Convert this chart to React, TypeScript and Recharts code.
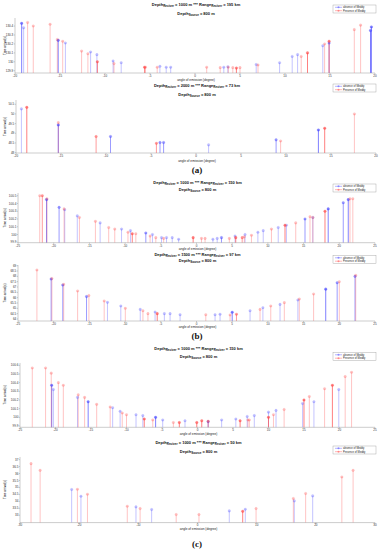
import React from 'react';
import { ScatterChart, Scatter, XAxis, YAxis, ReferenceLine } from 'recharts';

type Pt = { a: number; t: number; n: number };
const pt = (a: number, t: number, n = 1): Pt => ({ a, t, n });

// ---------- (a) top : receiver 1000 m, range 195 km ----------
const p1Absence: Pt[] = [
  pt(-19.26, 130.43, 3), pt(-19.04, 130.38), pt(-15.2, 130.24, 3), pt(-14.4, 130.21), pt(-11.6, 130.11),
  pt(-10.9, 130.08), pt(-9.1, 130.01), pt(-8.2, 129.99), pt(-3.9, 129.95), pt(-3.2, 129.94), pt(-2.7, 129.94),
  pt(3.2, 129.94), pt(3.65, 129.945), pt(6.8, 129.97), pt(9.4, 129.99), pt(10.8, 130.06), pt(11.4, 130.08),
  pt(14.2, 130.18), pt(14.9, 130.21, 2), pt(19.5, 130.35, 3), pt(19.6, 130.39, 3),
];
const p1Presence: Pt[] = [
  pt(-18.6, 130.44), pt(-17.97, 130.4), pt(-16.1, 130.42), pt(-15.3, 130.25), pt(-14.7, 130.23), pt(-12.6, 130.12),
  pt(-11.9, 130.09), pt(-10.85, 130.0, 3), pt(-9.0, 129.98), pt(-5.6, 129.94, 3), pt(-5.5, 129.94), pt(-4.2, 129.94),
  pt(1.3, 129.94), pt(2.8, 129.935), pt(3.7, 129.94), pt(4.2, 129.935), pt(4.6, 129.93, 3), pt(5.0, 129.935),
  pt(7.0, 129.965), pt(11.8, 130.06), pt(12.5, 130.1, 3), pt(14.4, 130.2), pt(14.9, 130.23, 3), pt(17.7, 130.36),
  pt(18.4, 130.41),
];
const p1XTicks = [-20, -15, -10, -5, 0, 5, 10, 15, 20];
const p1YTicks = [129.9, 130, 130.1, 130.2, 130.3, 130.4];

// ---------- (a) bottom : receiver 2000 m, range 73 km ----------
const p2Absence: Pt[] = [
  pt(-19.4, 50.26), pt(-15.3, 49.43, 3), pt(-9.5, 48.83, 2), pt(-4.0, 48.52, 2), pt(-3.6, 48.52, 2),
  pt(1.4, 48.4), pt(8.9, 48.66, 2), pt(13.6, 49.17, 3),
];
const p2Presence: Pt[] = [
  pt(-18.8, 50.34, 3), pt(-15.3, 49.55), pt(-11.1, 48.83, 2), pt(-4.4, 48.48, 2), pt(9.4, 48.6),
  pt(14.3, 49.26, 3), pt(17.6, 50.0),
];
const p2XTicks = [-20, -15, -10, -5, 0, 5, 10, 15, 20];
const p2YTicks = [48, 48.5, 49, 49.5, 50, 50.5];

// ---------- (b) top : receiver 1000 m, range 150 km ----------
const p3Absence: Pt[] = [
  pt(-21.0, 100.45, 3), pt(-19.25, 100.35, 2), pt(-18.46, 100.32), pt(-16.7, 100.24), pt(-13.5, 100.15),
  pt(-10.5, 100.07), pt(-9.25, 100.05), pt(-7.1, 100.02, 2), pt(-6.17, 100.0), pt(-4.9, 99.96), pt(-4.2, 99.96),
  pt(-3.4, 99.96), pt(-2.5, 99.94), pt(2.3, 99.94), pt(2.9, 99.95), pt(3.5, 99.96, 2), pt(5.4, 99.98),
  pt(6.8, 100.0), pt(8.6, 100.03), pt(9.35, 100.05), pt(11.45, 100.09), pt(12.6, 100.12), pt(15.2, 100.2, 2),
  pt(16.3, 100.22), pt(18.45, 100.33, 3), pt(20.56, 100.41, 2), pt(21.26, 100.45, 3),
];
const p3Presence: Pt[] = [
  pt(-21.96, 100.5), pt(-21.6, 100.5, 2), pt(-20.95, 100.46), pt(-18.55, 100.33), pt(-16.4, 100.22),
  pt(-14.16, 100.17), pt(-12.3, 100.09), pt(-11.45, 100.07), pt(-9.6, 100.03), pt(-9.0, 100.01, 3),
  pt(-8.5, 100.01), pt(-6.5, 99.98), pt(-5.7, 99.96), pt(-4.6, 99.95), pt(-0.47, 99.96, 3), pt(0.7, 99.95),
  pt(1.2, 99.95), pt(4.6, 99.95), pt(5.5, 99.96, 3), pt(6.4, 99.96, 2), pt(6.7, 99.97), pt(7.7, 99.99),
  pt(10.5, 100.07), pt(12.4, 100.12, 3), pt(13.9, 100.15), pt(15.9, 100.23), pt(16.3, 100.22),
  pt(18.0, 100.3, 3), pt(21.5, 100.46), pt(21.9, 100.46),
];
const p3XTicks = [-25, -20, -15, -10, -5, 0, 5, 10, 15, 20, 25];
const p3YTicks = [99.9, 100, 100.1, 100.2, 100.3, 100.4, 100.5];

// ---------- (b) bottom : receiver 1500 m, range 97 km ----------
const p4Absence: Pt[] = [
  pt(-20.36, 67.75, 2), pt(-18.73, 67.19, 2), pt(-15.4, 66.1, 2), pt(-12.47, 65.56), pt(-10.6, 65.22),
  pt(-7.88, 64.9), pt(-5.8, 64.65), pt(-4.5, 64.5), pt(-3.7, 64.5), pt(-2.3, 64.4), pt(2.6, 64.4),
  pt(3.3, 64.45), pt(5.0, 64.63, 3), pt(7.5, 64.77), pt(9.3, 65.06), pt(11.7, 65.37), pt(14.2, 65.78),
  pt(18.1, 66.8, 3), pt(19.7, 67.4, 2), pt(22.2, 68.0, 2),
];
const p4Presence: Pt[] = [
  pt(-22.35, 68.6), pt(-20.25, 67.8), pt(-18.6, 67.25), pt(-16.65, 66.63), pt(-15.07, 66.2), pt(-12.93, 65.69),
  pt(-9.97, 65.0), pt(-7.5, 64.77), pt(-6.8, 64.5), pt(-5.5, 64.5, 3), pt(1.3, 64.4), pt(4.7, 64.38),
  pt(5.6, 64.45, 2), pt(8.9, 64.9), pt(10.4, 65.22), pt(12.3, 65.53), pt(14.4, 65.87), pt(16.4, 66.34),
  pt(20.0, 67.5), pt(22.3, 68.1),
];
const p4XTicks = [-25, -20, -15, -10, -5, 0, 5, 10, 15, 20, 25];
const p4YTicks = [64, 64.5, 65, 65.5, 66, 66.5, 67, 67.5, 68, 68.5, 69];

// ---------- (c) top : receiver 1000 m, range 150 km ----------
const p5Absence: Pt[] = [
  pt(-20.54, 100.37, 3), pt(-20.3, 100.32), pt(-16.9, 100.23), pt(-15.4, 100.18, 3), pt(-11.95, 100.11),
  pt(-10.9, 100.07), pt(-8.66, 100.03), pt(-7.7, 100.02), pt(-5.9, 100.0, 3), pt(-4.9, 99.97), pt(-1.76, 99.96),
  pt(1.5, 99.95, 2), pt(3.4, 99.97), pt(5.4, 99.98), pt(7.0, 100.01), pt(8.0, 100.02), pt(10.0, 100.06),
  pt(11.06, 100.08), pt(14.8, 100.16), pt(16.4, 100.18), pt(19.9, 100.32),
];
const p5Presence: Pt[] = [
  pt(-23.27, 100.57), pt(-21.4, 100.57), pt(-20.6, 100.51), pt(-19.6, 100.4), pt(-18.9, 100.37),
  pt(-16.8, 100.26), pt(-15.9, 100.23), pt(-14.2, 100.15), pt(-12.3, 100.12), pt(-10.6, 100.05),
  pt(-10.0, 100.03), pt(-7.5, 99.98, 3), pt(-6.3, 99.97), pt(-3.4, 99.94), pt(-2.56, 99.94, 3),
  pt(-0.1, 99.94, 3), pt(0.6, 99.96, 3), pt(1.5, 99.955, 2), pt(6.0, 99.96, 3), pt(7.1, 99.97), pt(7.3, 99.97),
  pt(10.0, 100.0, 3), pt(10.7, 100.03), pt(12.2, 100.09), pt(15.0, 100.2, 3), pt(15.75, 100.24),
  pt(17.9, 100.33), pt(19.0, 100.37, 3), pt(20.8, 100.47), pt(21.7, 100.52),
];
const p5XTicks = [-25, -20, -15, -10, -5, 0, 5, 10, 15, 20, 25];
const p5YTicks = [99.9, 100, 100.1, 100.2, 100.3, 100.4, 100.5, 100.6];

// ---------- (c) bottom : receiver 1000 m, range 50 km ----------
const p6Absence: Pt[] = [
  pt(-21.27, 34.85), pt(-19.7, 34.37), pt(-10.4, 33.6), pt(-7.75, 33.41), pt(5.37, 33.31),
  pt(8.08, 33.43), pt(16.36, 34.03), pt(19.47, 34.39),
];
const p6Presence: Pt[] = [
  pt(-28.14, 36.71), pt(-26.6, 36.23), pt(-20.3, 34.87), pt(-18.6, 34.51), pt(-11.87, 33.65), pt(-9.7, 33.48),
  pt(-3.6, 33.05), pt(0.25, 33.05), pt(7.64, 33.28, 3), pt(9.9, 33.48), pt(16.2, 34.2), pt(18.28, 34.56),
  pt(24.4, 35.75), pt(26.3, 36.23),
];
const p6XTicks = [-30, -20, -10, 0, 10, 20, 30];
const p6YTicks = [33, 33.5, 34, 34.5, 35, 35.5, 36, 36.5, 37];

const BLUE = 'rgb(70,70,255)';
const RED = 'rgb(255,70,70)';
const alpha = (n: number) => 1 - Math.pow(1 - 0.32, n);
const FONT = '"Liberation Sans", Arial, sans-serif';

type PanelCfg = {
  left: number; right: number; top: number; bottom: number;
  xDomain: [number, number]; yDomain: [number, number];
  xTicks: number[]; yTicks: number[];
  absence: Pt[]; presence: Pt[];
};

const EmptyTick = () => <g />;

const Panel = ({ c }: { c: PanelCfg }) => {
  const xh = 6;
  const h = 1 + (c.bottom - c.top) + xh;
  const marker = (color: string) => (props: any) => {
    const { cx, cy, payload } = props;
    if (cx == null || cy == null) return <g />;
    return <circle cx={cx} cy={cy} r={1.3} fill={color} fillOpacity={alpha(payload.n)} stroke={color} strokeOpacity={alpha(payload.n)} strokeWidth={0.3} />;
  };
  const stems = (arr: Pt[], color: string, key: string) =>
    arr.map((d, i) => (
      <ReferenceLine
        key={key + i}
        segment={[{ x: d.a, y: c.yDomain[0] }, { x: d.a, y: d.t }]}
        stroke={color}
        strokeOpacity={alpha(d.n)}
        strokeWidth={1}
      />
    ));
  return (
    <div style={{ position: 'absolute', left: 0, top: c.top - 1 }}>
      <ScatterChart width={382} height={h} margin={{ top: 1, right: 382 - c.right, bottom: 0, left: 0 }}>
        <XAxis
          xAxisId={0} dataKey="a" type="number" domain={c.xDomain} ticks={c.xTicks} allowDataOverflow
          height={xh} tickSize={1.2} tickMargin={0.5} interval={0}
          tick={{ fontSize: 3, fill: '#333', fontFamily: FONT }}
          stroke="#999" strokeWidth={0.5}
        />
        <XAxis
          xAxisId="top" orientation="top" type="number" domain={c.xDomain} ticks={c.xTicks} allowDataOverflow
          height={0} mirror tickSize={1.5} tick={<EmptyTick />} interval={0} stroke="#999" strokeWidth={0.5}
        />
        <YAxis
          yAxisId={0} dataKey="t" type="number" domain={c.yDomain} ticks={c.yTicks} allowDataOverflow
          width={c.left} tickSize={1.2} tickMargin={0.5} interval={0}
          tick={{ fontSize: 3, fill: '#333', fontFamily: FONT }}
          stroke="#999" strokeWidth={0.5}
        />
        <YAxis
          yAxisId="right" orientation="right" type="number" domain={c.yDomain} ticks={c.yTicks} allowDataOverflow
          width={0} mirror tickSize={1.5} tick={<EmptyTick />} interval={0} stroke="#999" strokeWidth={0.5}
        />
        {stems(c.absence, BLUE, 'b')}
        {stems(c.presence, RED, 'r')}
        <Scatter data={c.absence} fill={BLUE} shape={marker(BLUE)} isAnimationActive={false} />
        <Scatter data={c.presence} fill={RED} shape={marker(RED)} isAnimationActive={false} />
      </ScatterChart>
    </div>
  );
};

const panels: PanelCfg[] = [
  { left: 15, right: 375, top: 18, bottom: 73, xDomain: [-20, 20], yDomain: [129.875, 130.49], xTicks: p1XTicks, yTicks: p1YTicks, absence: p1Absence, presence: p1Presence },
  { left: 16, right: 376, top: 100, bottom: 153, xDomain: [-20, 20], yDomain: [47.98, 50.72], xTicks: p2XTicks, yTicks: p2YTicks, absence: p2Absence, presence: p2Presence },
  { left: 18, right: 375, top: 193, bottom: 242.7, xDomain: [-25, 25], yDomain: [99.895, 100.535], xTicks: p3XTicks, yTicks: p3YTicks, absence: p3Absence, presence: p3Presence },
  { left: 18, right: 375, top: 265, bottom: 321, xDomain: [-25, 25], yDomain: [63.81, 69.066], xTicks: p4XTicks, yTicks: p4YTicks, absence: p4Absence, presence: p4Presence },
  { left: 20, right: 375, top: 362.7, bottom: 427, xDomain: [-25, 25], yDomain: [99.885, 100.627], xTicks: p5XTicks, yTicks: p5YTicks, absence: p5Absence, presence: p5Presence },
  { left: 20, right: 375, top: 456.7, bottom: 522.3, xDomain: [-30, 30], yDomain: [32.47, 37.19], xTicks: p6XTicks, yTicks: p6YTicks, absence: p6Absence, presence: p6Presence },
];

const titles = [
  { rec: '1000', range: '195', y: 5, sy: 13.5, xl: 80.5, leg: 5 },
  { rec: '2000', range: '73', y: 86, sy: 94.5, xl: 161.5, leg: 84 },
  { rec: '1000', range: '150', y: 182.5, sy: 189.5, xl: 250, leg: 184 },
  { rec: '1500', range: '97', y: 254.5, sy: 261, xl: 327.5, leg: 255.5 },
  { rec: '1000', range: '150', y: 348.5, sy: 357, xl: 435, leg: 352.5 },
  { rec: '1000', range: '50', y: 442.5, sy: 452, xl: 529.5, leg: 446 },
];

const Title = ({ x, y, rec, range }: { x: number; y: number; rec: string; range: string }) => (
  <text x={x} y={y} textAnchor="middle" fontSize={4} fontWeight="bold" fontFamily={FONT} fill="#111">
    Depth<tspan fontSize={3} dy={1}>Reciver</tspan>
    <tspan dy={-1}>{` = ${rec} m *** Range`}</tspan>
    <tspan fontSize={3} dy={1}>Reciver</tspan>
    <tspan dy={-1}>{` = ${range} km`}</tspan>
  </text>
);

const Source = ({ x, y }: { x: number; y: number }) => (
  <text x={x} y={y} textAnchor="middle" fontSize={4} fontWeight="bold" fontFamily={FONT} fill="#111">
    Depth<tspan fontSize={3} dy={1}>Source</tspan>
    <tspan dy={-1}>{' = 800 m'}</tspan>
  </text>
);

const LegendBox = ({ y }: { y: number }) => (
  <g>
    <rect x={333} y={y} width={43} height={8} fill="#fff" stroke="#999" strokeWidth={0.4} />
    <line x1={335} x2={342} y1={y + 2.3} y2={y + 2.3} stroke={BLUE} strokeOpacity={0.5} strokeWidth={0.8} />
    <circle cx={338.5} cy={y + 2.3} r={1} fill={BLUE} fillOpacity={0.5} />
    <text x={343} y={y + 3.3} fontSize={2.6} fontFamily={FONT} fill="#222">absence of Meddy</text>
    <line x1={335} x2={342} y1={y + 5.7} y2={y + 5.7} stroke={RED} strokeOpacity={0.5} strokeWidth={0.8} />
    <circle cx={338.5} cy={y + 5.7} r={1} fill={RED} fillOpacity={0.5} />
    <text x={343} y={y + 6.7} fontSize={2.6} fontFamily={FONT} fill="#222">Presence of Meddy</text>
  </g>
);

export default function App() {
  return (
    <div style={{ position: 'absolute', left: 0, top: 0, width: 382, height: 550, background: '#fff', overflow: 'hidden' }}>
      {panels.map((p, i) => <Panel key={i} c={p} />)}
      <svg width={382} height={550} style={{ position: 'absolute', left: 0, top: 0, pointerEvents: 'none' }}>
        {titles.map((t, i) => {
          const p = panels[i];
          const cx = (p.left + p.right) / 2 + 1;
          const my = (p.top + p.bottom) / 2;
          return (
            <g key={i}>
              <Title x={cx} y={t.y + 1} rec={t.rec} range={t.range} />
              <Source x={cx} y={t.sy + 1} />
              <LegendBox y={t.leg} />
              <text x={cx} y={t.xl} textAnchor="middle" fontSize={3.2} fontFamily={FONT} fill="#222">angle of emission (degree)</text>
              <text x={5} y={my} textAnchor="middle" fontSize={3} fontFamily={FONT} fill="#222" transform={`rotate(-90 5 ${my})`} dy={1}>Time arrival(s)</text>
            </g>
          );
        })}
        <text x={197} y={173} textAnchor="middle" fontSize={9} fontWeight="bold" fontFamily='"Liberation Serif", serif' fill="#111">(a)</text>
        <text x={197} y={339} textAnchor="middle" fontSize={9} fontWeight="bold" fontFamily='"Liberation Serif", serif' fill="#111">(b)</text>
        <text x={197} y={547} textAnchor="middle" fontSize={9} fontWeight="bold" fontFamily='"Liberation Serif", serif' fill="#111">(c)</text>
      </svg>
    </div>
  );
}
